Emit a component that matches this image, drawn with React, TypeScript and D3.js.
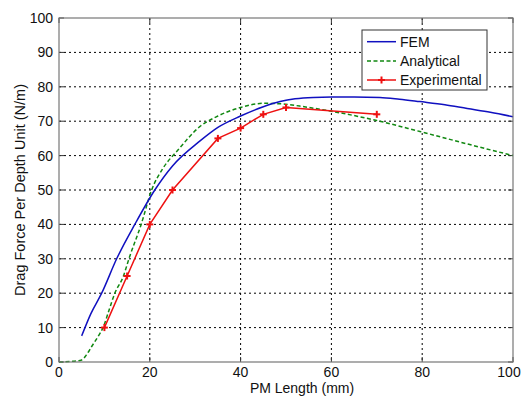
import React from "react";
import * as d3 from "d3";

const xTicks = [0, 20, 40, 60, 80, 100];
const yTicks = [0, 10, 20, 30, 40, 50, 60, 70, 80, 90, 100];

const femX = [5, 7, 9.4, 12.7, 16.7, 21.1, 25, 31, 35, 40, 45, 48.7, 52, 56, 60, 65, 70.7, 75, 79.5, 85, 89.9, 95, 100];
const femY = [7.6, 14, 20, 30, 40, 50, 57, 64.2, 68.2, 71.5, 74.2, 75.7, 76.5, 76.9, 77, 77, 76.9, 76.4, 75.7, 74.8, 73.7, 72.6, 71.3];

const anaX = [0, 3, 5, 6, 7.2, 8.5, 9.8, 11, 12.3, 14.2, 15.4, 18.1, 20.4, 23, 26.2, 31, 35, 40, 45, 49.4, 53, 60.4, 70, 79.5, 89.9, 100];
const anaY = [0, 0.2, 0.6, 2, 4.5, 7.2, 10.3, 15, 20, 25, 30, 40, 50, 56.5, 61.6, 68.4, 71.5, 74, 75.2, 75, 74.4, 72.8, 70.2, 67, 63.4, 60];

const expX = [10, 15, 20, 25, 35, 40, 45, 50, 70];
const expY = [10, 25, 40, 50, 65, 68, 72, 74, 72];

const seriesNames = ["FEM", "Analytical", "Experimental"];

const W = 523, H = 397;
const L = 59, R = 513, T = 18, B = 362;

export default function App() {
  const x = d3.scaleLinear().domain([0, 100]).range([L, R]);
  const y = d3.scaleLinear().domain([0, 100]).range([B, T]);
  const line = d3.line<[number, number]>().x(d => x(d[0])).y(d => y(d[1])).curve(d3.curveMonotoneX);
  const lineLin = d3.line<[number, number]>().x(d => x(d[0])).y(d => y(d[1]));
  const fem = femX.map((v, i) => [v, femY[i]] as [number, number]);
  const ana = anaX.map((v, i) => [v, anaY[i]] as [number, number]);
  const exp = expX.map((v, i) => [v, expY[i]] as [number, number]);
  const font = "Liberation Sans, Arial, sans-serif";
  const star = (cx: number, cy: number, k: string) => (
    <g key={k} stroke="#ee1111" strokeWidth={2}>
      <line x1={cx - 3.5} x2={cx + 3.5} y1={cy} y2={cy} />
      <line x1={cx} x2={cx} y1={cy - 3.5} y2={cy + 3.5} />
    </g>
  );
  const lx1 = 367, lx2 = 396, ltx = 400;
  const ly = [41.7, 61, 80];
  return (
    <svg width={W} height={H} style={{ position: "absolute", left: 0, top: 0, background: "#fff" }} fontFamily={font}>
      <rect x={0} y={0} width={W} height={H} fill="#fff" />
      {xTicks.slice(1, -1).map(t => (
        <line key={"gx" + t} x1={x(t)} x2={x(t)} y1={T} y2={B} stroke="#000" strokeWidth={1} strokeDasharray="2,3" />
      ))}
      {yTicks.slice(1, -1).map(t => (
        <line key={"gy" + t} x1={L} x2={R} y1={y(t)} y2={y(t)} stroke="#000" strokeWidth={1} strokeDasharray="2,3" />
      ))}
      {xTicks.map(t => (
        <g key={"tx" + t}>
          <line x1={x(t)} x2={x(t)} y1={B} y2={B - 5} stroke="#333" />
          <line x1={x(t)} x2={x(t)} y1={T} y2={T + 5} stroke="#333" />
        </g>
      ))}
      {yTicks.map(t => (
        <g key={"ty" + t}>
          <line x1={L} x2={L + 5} y1={y(t)} y2={y(t)} stroke="#333" />
          <line x1={R} x2={R - 5} y1={y(t)} y2={y(t)} stroke="#333" />
        </g>
      ))}
      <path d={line(ana) || ""} fill="none" stroke="#118811" strokeWidth={1.5} strokeDasharray="4,2.5" />
      <path d={line(fem) || ""} fill="none" stroke="#1010c0" strokeWidth={1.5} />
      <path d={lineLin(exp) || ""} fill="none" stroke="#ee1111" strokeWidth={1.5} />
      {exp.map((p, i) => star(x(p[0]), y(p[1]), "m" + i))}
      <rect x={L} y={T} width={R - L} height={B - T} fill="none" stroke="#777" strokeWidth={1.2} />
      {xTicks.map(t => (
        <text key={"lx" + t} x={Math.min(x(t), W - 14)} y={B + 15} textAnchor="middle" fontSize={14} fill="#111">{t}</text>
      ))}
      {yTicks.map(t => (
        <text key={"ly" + t} x={L - 6} y={y(t) + 5} textAnchor="end" fontSize={14} fill="#111">{t}</text>
      ))}
      <text x={302} y={393} textAnchor="middle" fontSize={14} fill="#111">PM Length (mm)</text>
      <text transform={`translate(25,${(T + B) / 2}) rotate(-90)`} textAnchor="middle" fontSize={14.5} fill="#111">Drag Force Per Depth Unit (N/m)</text>
      <rect x={362} y={30} width={125} height={60} fill="#fff" stroke="#333" strokeWidth={1} />
      <line x1={lx1} x2={lx2} y1={ly[0]} y2={ly[0]} stroke="#1010c0" strokeWidth={1.5} />
      <line x1={lx1} x2={lx2} y1={ly[1]} y2={ly[1]} stroke="#118811" strokeWidth={1.5} strokeDasharray="4,2.5" />
      <line x1={lx1} x2={lx2} y1={ly[2]} y2={ly[2]} stroke="#ee1111" strokeWidth={1.5} />
      {star((lx1 + lx2) / 2, ly[2], "lm")}
      {seriesNames.map((n, i) => (
        <text key={n} x={ltx} y={ly[i] + 5} fontSize={14} fill="#111">{n}</text>
      ))}
    </svg>
  );
}
